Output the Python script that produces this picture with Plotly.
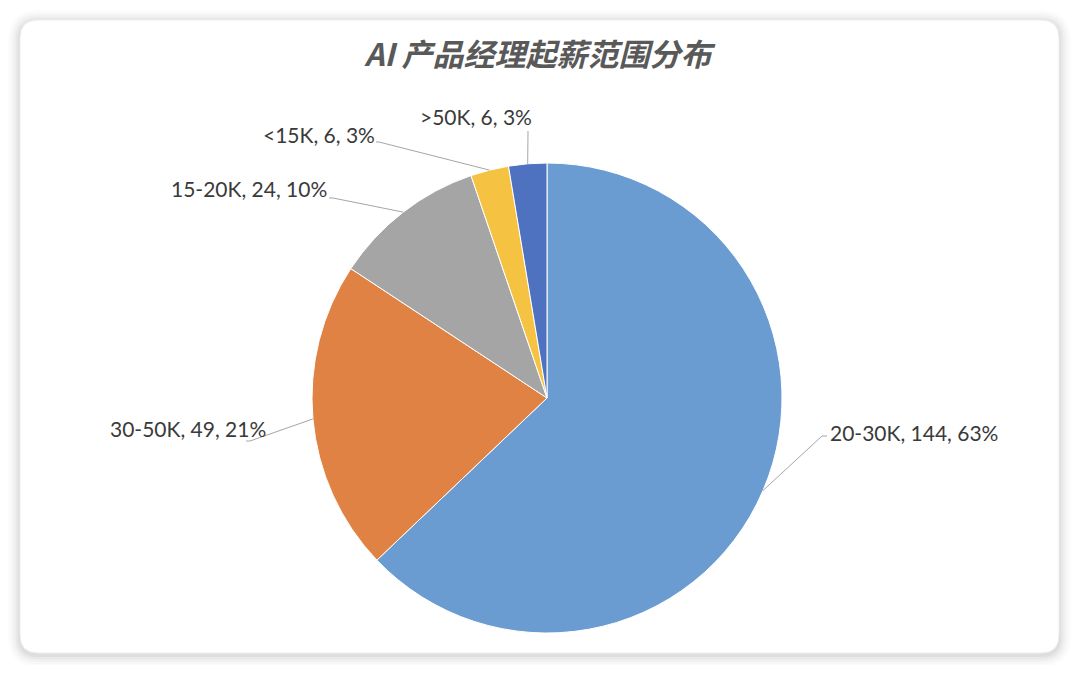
import numpy as np
import plotly.graph_objects as go

# data, in drawing order (clockwise from 12 o'clock)
categories = ["20-30K", "30-50K", "15-20K", "<15K", ">50K"]
counts = [144, 49, 24, 6, 6]
colors = ["#6A9BD1", "#E08244", "#A5A5A5", "#F5C242", "#4F72C0"]
title_text = "AI 产品经理起薪范围分布"

# layout (pixels in the 1080x673 screenshot; the page body adds an 8px offset)
OFF = 8
W, H = 1080 - 2 * OFF, 673 - 2 * OFF
CX, CY, R = 547 - OFF, 398 - OFF, 235
L, T = CX - R, CY - R
B = H - (CY + R)
RM = W - (CX + R)

# where each label text sits and where its leader line ends
label_xy = [(828, 432), (268, 428), (329, 188), (377, 134), (534, 117)]
label_anchor = ["left", "right", "right", "right", "right"]
line_end = [[(822, 436), (827, 436)], [(250, 441), (246, 441)],
            [(333, 198), (329, 198)], [(379, 142), (376, 142)],
            [(528, 131)]]


def px2paper(x, y):
    x, y = x - OFF, y - OFF
    return (x - L) / (2 * R), (H - B - y) / (2 * R)


def rrect(x0, y0, x1, y1, r):
    a0, b0 = px2paper(x0, y0)
    a1, b1 = px2paper(x1, y1)
    k = r / (2 * R)
    return (f"M {a0+k} {b0} L {a1-k} {b0} Q {a1} {b0} {a1} {b0-k} "
            f"L {a1} {b1+k} Q {a1} {b1} {a1-k} {b1} L {a0+k} {b1} "
            f"Q {a0} {b1} {a0} {b1+k} L {a0} {b0-k} Q {a0} {b0} {a0+k} {b0} Z")


total = sum(counts)
fracs = np.array(counts) / total
mids = np.cumsum(fracs) - fracs / 2

fig = go.Figure(go.Pie(
    labels=categories, values=counts, sort=False, direction="clockwise",
    rotation=0, textinfo="none", hoverinfo="label+value+percent",
    marker=dict(colors=colors, line=dict(color="white", width=1)),
    showlegend=False,
))

shapes = []
# card shadow + card
for i, op in enumerate([0.012, 0.018, 0.025, 0.035, 0.045]):
    g = 12 - i * 2.5
    shapes.append(dict(type="path", xref="paper", yref="paper", layer="below",
                       path=rrect(20 - g, 20 - g + 2, 1059 + g, 653 + g + 2, 18 + g),
                       fillcolor=f"rgba(0,0,0,{op})", line=dict(width=0)))
shapes.append(dict(type="path", xref="paper", yref="paper", layer="below",
                   path=rrect(20, 20, 1059, 653, 18),
                   fillcolor="white", line=dict(color="#ededed", width=1)))

annotations = []
for i, cat in enumerate(categories):
    ang = 2 * np.pi * mids[i]
    ex, ey = 0.5 + 0.5 * np.sin(ang), 0.5 + 0.5 * np.cos(ang)
    pts = [px2paper(*p) for p in line_end[i]]
    path = f"M {ex} {ey} " + " ".join(f"L {p[0]} {p[1]}" for p in pts)
    shapes.append(dict(type="path", xref="paper", yref="paper", path=path,
                       line=dict(color="#a6a6a6", width=1)))
    pct = round(counts[i] / total * 100)
    tx, ty = px2paper(*label_xy[i])
    annotations.append(dict(x=tx, y=ty, xref="paper", yref="paper",
                            text=f"{cat}, {counts[i]}, {pct}%", showarrow=False,
                            xanchor=label_anchor[i], yanchor="middle",
                            font=dict(size=21, color="#3a3a3a",
                                      family="Lato, Noto Sans, sans-serif")))

fig.update_layout(
    width=W, height=H,
    margin=dict(l=L, r=RM, t=T, b=B),
    paper_bgcolor="white", plot_bgcolor="white",
    title=dict(text=f"<b><i>{title_text}</i></b>", x=(538 - OFF) / W, xanchor="center",
               y=1 - (55 - OFF) / H, yanchor="middle",
               font=dict(size=31, color="#595959",
                         family="Noto Sans CJK SC, Noto Sans, sans-serif")),
    shapes=shapes, annotations=annotations,
)

fig.write_html("out.html")
